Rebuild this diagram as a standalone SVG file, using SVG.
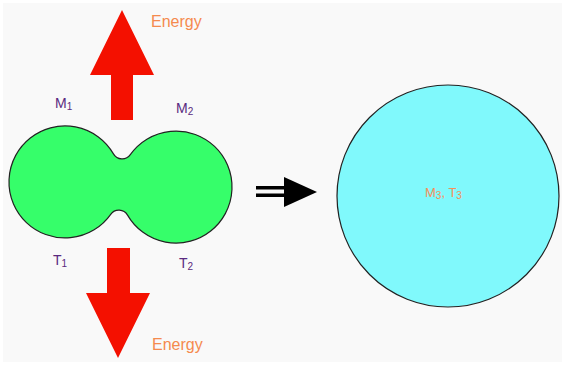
<svg xmlns="http://www.w3.org/2000/svg" width="565" height="365" viewBox="0 0 565 365">
<style>
.lbl{font-family:"Liberation Sans",Arial,sans-serif;font-size:14px;fill:#5a2a80}
.sub{font-size:10px}
.en{font-family:"Liberation Sans",Arial,sans-serif;font-size:16px;fill:#f58a4e}
.red{fill:#f41000}
</style>
<rect x="0" y="0" width="565" height="365" fill="#ffffff"/>
<rect x="3" y="3" width="559" height="359" fill="#f9f9f9"/>
<g id="energy-up">
<polygon class="red" points="122,10 154,75 133,75 133,120 111,120 111,75 90,75"/>
<text class="en" x="151" y="27">Energy</text>
</g>
<g id="energy-down">
<polygon class="red" points="107,248 130,248 130,293 150,293 118,358 86,293 107,293"/>
<text class="en" x="152" y="350">Energy</text>
</g>
<g id="merging-stars">
<path d="M113.45,153.9 A56,56 0 1,0 110.7,214.3 A10,10 0 0,1 127.55,215.1 A56,56 0 1,0 130.3,154.7 A10,10 0 0,1 113.45,153.9 Z" fill="#36fe6a" stroke="#222" stroke-width="1.2"/>
<text class="lbl" x="55" y="108">M<tspan class="sub" dy="2">1</tspan></text>
<text class="lbl" x="176" y="113">M<tspan class="sub" dy="2">2</tspan></text>
<text class="lbl" x="53" y="265">T<tspan class="sub" dy="2">1</tspan></text>
<text class="lbl" x="179" y="268">T<tspan class="sub" dy="2">2</tspan></text>
</g>
<g id="connectors">
<rect x="256" y="186" width="30" height="3.5" fill="#000"/>
<rect x="256" y="193.5" width="30" height="3.5" fill="#000"/>
<polygon points="284,177 317,192 284,207" fill="#000"/>
</g>
<g id="merged-star">
<circle cx="448" cy="196" r="111" fill="#80f9fc" stroke="#222" stroke-width="1.2"/>
<text class="lbl" x="425" y="197" style="fill:#f5905a;font-size:13px">M<tspan class="sub" dy="2">3</tspan><tspan dy="-2">, T</tspan><tspan class="sub" dy="2">3</tspan></text>
</g>
</svg>
